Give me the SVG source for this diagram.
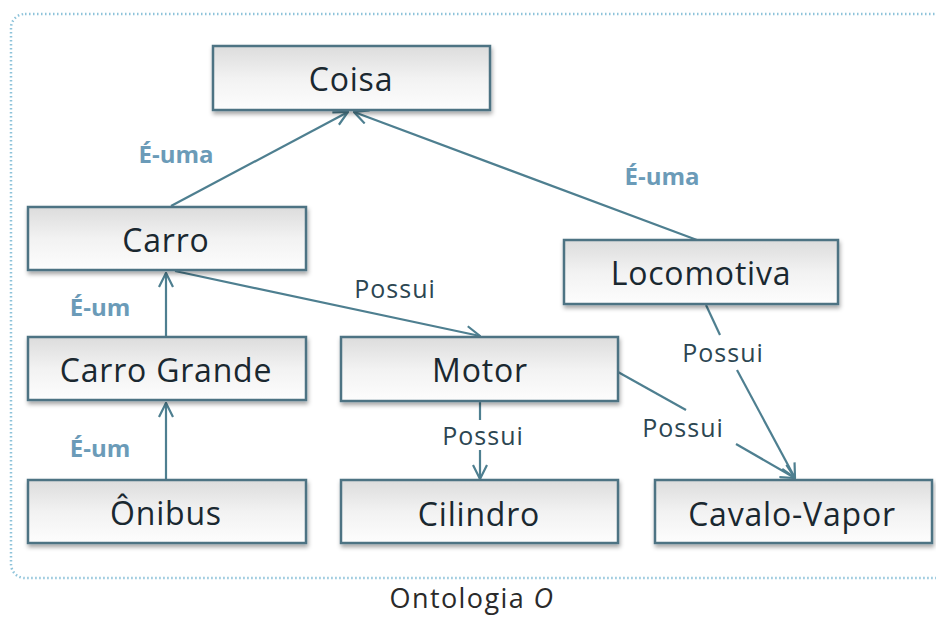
<svg xmlns="http://www.w3.org/2000/svg" width="936" height="619" viewBox="0 0 936 619">
  <defs>
    <linearGradient id="boxFill" x1="0" y1="0" x2="0" y2="1">
      <stop offset="0" stop-color="#dcdcdc"/>
      <stop offset="0.5" stop-color="#f2f2f2"/>
      <stop offset="1" stop-color="#fdfdfd"/>
    </linearGradient>
    <filter id="shadow" x="-10%" y="-20%" width="120%" height="150%">
      <feDropShadow dx="1" dy="3" stdDeviation="2" flood-color="#000" flood-opacity="0.35"/>
    </filter>
    <marker id="arrow" viewBox="0 0 16 16" refX="15" refY="8" markerWidth="16" markerHeight="16" markerUnits="userSpaceOnUse" orient="auto">
      <path d="M1,1 L15,8 L1,15" fill="none" stroke="#4e7f90" stroke-width="2.2"/>
    </marker>
  </defs>
  <style>
    .box { fill: url(#boxFill); stroke: #4e7383; stroke-width: 2.5; filter: url(#shadow); }
    .name { font-family: "Open Sans", Lato, sans-serif; font-size: 32px; letter-spacing: 0.8px; fill: #1a2830; text-anchor: middle; dominant-baseline: central; }
    .edge { fill: none; stroke: #4e7f90; stroke-width: 2.2; }
    .isa { font-family: "Open Sans", Lato, sans-serif; font-size: 24px; fill: #6b9bb8; font-weight: bold; text-anchor: middle; dominant-baseline: central; }
    .has { font-family: "Open Sans", Lato, sans-serif; font-size: 25px; letter-spacing: 1px; fill: #2c4652; text-anchor: middle; dominant-baseline: central; }
    .frame { fill: #fff; stroke: #8ec3da; stroke-width: 2.5; stroke-dasharray: 1.5 2.5; }
    .caption { font-family: "Open Sans", Lato, sans-serif; font-size: 27px; letter-spacing: 1.4px; fill: #2a2a2a; text-anchor: middle; }
  </style>

  <rect width="936" height="619" fill="#fff"/>
  <rect class="frame" x="11" y="14" width="940" height="564" rx="14"/>

  <!-- connectors -->
  <g id="connectors">
    <line class="edge" x1="171" y1="206" x2="348" y2="112" marker-end="url(#arrow)"/>
    <line class="edge" x1="697" y1="240" x2="354" y2="112" marker-end="url(#arrow)"/>
    <line class="edge" x1="166" y1="337" x2="166" y2="273" marker-end="url(#arrow)"/>
    <line class="edge" x1="166" y1="480" x2="166" y2="403" marker-end="url(#arrow)"/>
    <line class="edge" x1="175" y1="271" x2="480" y2="336" marker-end="url(#arrow)"/>
    <line class="edge" x1="480" y1="401" x2="480" y2="420"/>
    <line class="edge" x1="480" y1="450" x2="480" y2="479" marker-end="url(#arrow)"/>
    <line class="edge" x1="618" y1="372" x2="686" y2="410"/>
    <line class="edge" x1="736" y1="444" x2="795" y2="478" marker-end="url(#arrow)"/>
    <line class="edge" x1="706" y1="305" x2="720" y2="335"/>
    <line class="edge" x1="737" y1="370" x2="795" y2="478" marker-end="url(#arrow)"/>
    <text class="isa" x="176" y="153">É-uma</text>
    <text class="isa" x="662" y="175">É-uma</text>
    <text class="isa" x="100" y="306">É-um</text>
    <text class="isa" x="100" y="447">É-um</text>
    <text class="has" x="395" y="288">Possui</text>
    <text class="has" x="483" y="435">Possui</text>
    <text class="has" x="683" y="427">Possui</text>
    <text class="has" x="723" y="352">Possui</text>
  </g>

  <g id="coisa">
    <rect class="box" x="213" y="46" width="277" height="64"/>
    <text class="name" x="351" y="78">Coisa</text>
  </g>
  <g id="carro">
    <rect class="box" x="28" y="207" width="278" height="63"/>
    <text class="name" x="166" y="239">Carro</text>
  </g>
  <g id="locomotiva">
    <rect class="box" x="564" y="240" width="274" height="64"/>
    <text class="name" x="701" y="272">Locomotiva</text>
  </g>
  <g id="carro-grande">
    <rect class="box" x="28" y="337" width="278" height="63"/>
    <text class="name" x="166" y="369">Carro Grande</text>
  </g>
  <g id="motor">
    <rect class="box" x="341" y="337" width="277" height="64"/>
    <text class="name" x="480" y="369">Motor</text>
  </g>
  <g id="onibus">
    <rect class="box" x="28" y="480" width="278" height="63"/>
    <text class="name" x="166" y="512">Ônibus</text>
  </g>
  <g id="cilindro">
    <rect class="box" x="341" y="480" width="277" height="63"/>
    <text class="name" x="479" y="513">Cilindro</text>
  </g>
  <g id="cavalo-vapor">
    <rect class="box" x="655" y="480" width="277" height="63"/>
    <text class="name" x="792" y="513">Cavalo-Vapor</text>
  </g>

  <text class="caption" x="472" y="608">Ontologia <tspan font-style="italic">O</tspan></text>
</svg>
